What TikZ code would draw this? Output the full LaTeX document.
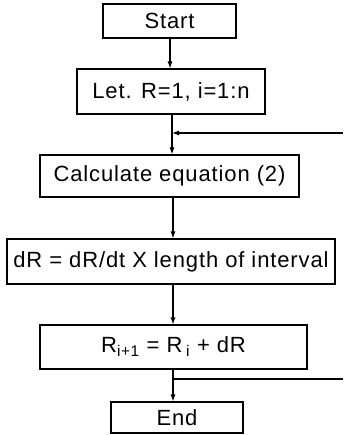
\documentclass[tikz,border=0pt]{standalone}
\usepackage{fontspec}
\setmainfont{Liberation Sans}
\usetikzlibrary{arrows.meta}
\begin{document}
\begin{tikzpicture}[x=1pt,y=-1pt,
  box/.style={draw,line width=1.1pt,inner sep=0pt,
    font=\fontsize{22}{26}\selectfont\addfontfeature{LetterSpace=4}},
  flow/.style={line width=1.1pt,-{Latex[length=7pt,width=5pt]}},
  plain/.style={line width=1.1pt}]
\useasboundingbox (0,0) rectangle (343,435);
% process boxes
\node[box,minimum width=133pt,minimum height=34pt] (start) at (169.5,21) {Start};
\node[box,minimum width=188pt,minimum height=45pt] (init) at (171,91.5) {Let. R=1, i=1:n};
\node[box,minimum width=259pt,minimum height=42pt] (calc) at (169.5,176) {Calculate equation (2)};
\node[box,minimum width=328pt,minimum height=45pt] (incr) at (171,261.5) {dR = dR/dt X length of interval};
\node[box,minimum width=267pt,minimum height=44pt] (upd) at (173.5,347) {R\textsubscript{i+1} = R\,\textsubscript{i} + dR};
\node[box,minimum width=132pt,minimum height=31pt] (stop) at (177,417.5) {End};
% x positions of the vertical flow lines
\coordinate (xa) at (170,0);
\coordinate (xb) at (172,0);
\coordinate (xc) at (173,0);
% loop entry and exit at the right edge
\coordinate (loopin) at (343,133);
\coordinate (loopout) at (343,379);
% connectors
\draw[flow] (start.south -| xa) -- (init.north -| xa);
\draw[flow] (init.south -| xb) -- (calc.north -| xb);
\draw[flow] (loopin) -- (loopin -| xb);
\draw[flow] (calc.south -| xc) -- (incr.north -| xc);
\draw[flow] (incr.south -| xc) -- (upd.north -| xc);
\draw[flow] (upd.south -| xc) -- (stop.north -| xc);
\draw[plain] (loopout -| xc) -- (loopout);
\end{tikzpicture}
\end{document}
